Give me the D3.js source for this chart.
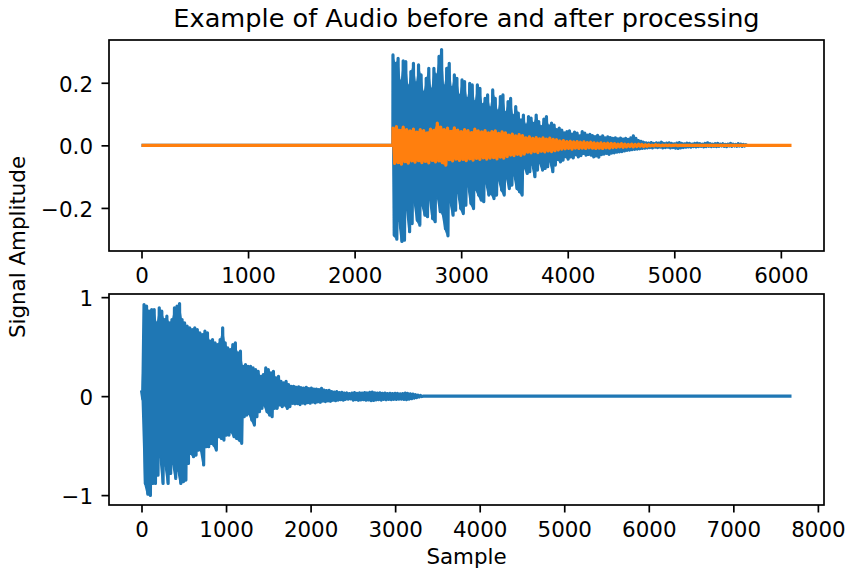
<!DOCTYPE html>
<head>
  <meta charset="utf-8">
  <style>
    body { margin: 0; background: #fff; }
    svg text { font-family: "DejaVu Sans", sans-serif; fill: #000; }
  </style>
</head>
<body>
  <svg width="846" height="571" id="chart"></svg>
  <script src="https://d3js.org/d3.v7.min.js"></script>
  <script>
    const title = "Example of Audio before and after processing";

    // top panel, original audio (blue): peak pairs every 24 samples from sample 2360
    const beforeStart = 2360, beforeStep = 24;
    const beforeHi = [
      0.289, 0.262, 0.278, 0.205, 0.270, 0.268, 0.190, 0.236, 0.262, 0.200,
      0.257, 0.225, 0.170, 0.214, 0.246, 0.180, 0.246, 0.225, 0.284, 0.306,
      0.190, 0.246, 0.262, 0.185, 0.225, 0.214, 0.160, 0.209, 0.204, 0.150,
      0.198, 0.193, 0.140, 0.193, 0.182, 0.130, 0.150, 0.161, 0.120, 0.177,
      0.150, 0.110, 0.156, 0.161, 0.105, 0.140, 0.150, 0.095, 0.124, 0.103,
      0.081, 0.097, 0.065, 0.092, 0.087, 0.070, 0.097, 0.076, 0.060, 0.084,
      0.092, 0.062, 0.071, 0.065, 0.050, 0.055, 0.049, 0.040, 0.044, 0.046,
      0.036, 0.042, 0.039, 0.030, 0.044, 0.039, 0.033, 0.035,
      0.031, 0.028, 0.032, 0.026, 0.030, 0.024, 0.027, 0.025, 0.022, 0.024,
      0.021, 0.023, 0.020, 0.022, 0.019, 0.024, 0.030, 0.022, 0.015, 0.013,
      0.010, 0.008, 0.007, 0.009, 0.006, 0.008, 0.007, 0.010, 0.006, 0.007,
      0.008, 0.006, 0.005, 0.007, 0.009, 0.006, 0.005, 0.007, 0.006, 0.004,
      0.006, 0.007, 0.005, 0.004, 0.006, 0.008, 0.005, 0.004, 0.005, 0.006,
      0.004, 0.005, 0.003, 0.004, 0.006, 0.004, 0.003, 0.005, 0.004, 0.003, 0.002
    ];
    const beforeLo = [
      -0.287, -0.300, -0.240, -0.307, -0.303, -0.200, -0.276, -0.250, -0.180, -0.239,
      -0.255, -0.190, -0.223, -0.228, -0.170, -0.234, -0.244, -0.160, -0.212, -0.218,
      -0.266, -0.289, -0.180, -0.223, -0.207, -0.150, -0.202, -0.218, -0.191, -0.130,
      -0.186, -0.202, -0.140, -0.159, -0.175, -0.180, -0.120, -0.159, -0.154, -0.170,
      -0.159, -0.110, -0.143, -0.159, -0.100, -0.138, -0.127, -0.095, -0.138, -0.148,
      -0.159, -0.070, -0.090, -0.084, -0.060, -0.100, -0.079, -0.055, -0.079, -0.074,
      -0.068, -0.050, -0.084, -0.063, -0.045, -0.053, -0.047, -0.036, -0.044, -0.037,
      -0.040, -0.030, -0.037, -0.033, -0.026, -0.031, -0.029, -0.031,
      -0.037, -0.034, -0.038, -0.030, -0.028, -0.026, -0.029, -0.025, -0.024, -0.022,
      -0.021, -0.020, -0.018, -0.016, -0.015, -0.014, -0.013, -0.012, -0.011, -0.010,
      -0.009, -0.008, -0.007, -0.008, -0.006, -0.007, -0.006, -0.008, -0.007, -0.006,
      -0.008, -0.007, -0.009, -0.010, -0.008, -0.007, -0.006, -0.005, -0.006, -0.004,
      -0.005, -0.004, -0.003, -0.005, -0.004, -0.003, -0.004, -0.003, -0.004, -0.003,
      -0.002, -0.003, -0.004, -0.002, -0.003, -0.002, -0.003, -0.002, -0.003, -0.002, -0.001
    ];

    // top panel, processed audio (orange): peak pairs every 32 samples from sample 2360
    const afterStart = 2360, afterStep = 32, afterLength = 6101;
    const afterHi = [
      0.055, 0.060, 0.048, 0.058, 0.050, 0.046, 0.052, 0.042, 0.050, 0.047,
      0.040, 0.052, 0.048, 0.071, 0.058, 0.050, 0.055, 0.045, 0.056, 0.049,
      0.044, 0.050, 0.047, 0.041, 0.052, 0.046, 0.043, 0.047, 0.040, 0.044,
      0.046, 0.038, 0.043, 0.040, 0.033, 0.036, 0.030, 0.034, 0.031, 0.024,
      0.027, 0.022, 0.025, 0.021, 0.024, 0.020, 0.023, 0.019, 0.018, 0.014,
      0.015, 0.012, 0.013, 0.011, 0.012, 0.010, 0.011, 0.009, 0.010, 0.008,
      0.007, 0.008, 0.006, 0.007, 0.006, 0.005, 0.004, 0.005, 0.004, 0.003,
      0.004, 0.003, 0.004, 0.003, 0.002, 0.002, 0.001, 0.002, 0.001, 0.001,
      0.001, 0.001, 0.000, 0.001, 0.000
    ];
    const afterLo = [
      -0.058, -0.055, -0.060, -0.052, -0.057, -0.050, -0.054, -0.049, -0.055, -0.051,
      -0.056, -0.048, -0.053, -0.050, -0.055, -0.063, -0.046, -0.050, -0.044, -0.048,
      -0.045, -0.049, -0.043, -0.047, -0.042, -0.045, -0.040, -0.044, -0.041, -0.039,
      -0.043, -0.038, -0.041, -0.036, -0.031, -0.033, -0.029, -0.032, -0.028, -0.022,
      -0.024, -0.020, -0.023, -0.019, -0.021, -0.018, -0.020, -0.017, -0.015, -0.012,
      -0.011, -0.010, -0.012, -0.009, -0.010, -0.009, -0.010, -0.008, -0.009, -0.010,
      -0.009, -0.010, -0.008, -0.009, -0.007, -0.006, -0.005, -0.006, -0.005, -0.004,
      -0.005, -0.004, -0.003, -0.004, -0.003, -0.002, -0.002, -0.001, -0.002, -0.001,
      -0.001, -0.001, 0.000, -0.001, 0.000
    ];

    // bottom panel (blue): peak pairs every 30 samples from sample 0
    const clipStart = 0, clipStep = 30, clipLength = 7689;
    const clipHi = [
      0.060, 0.926, 0.909, 0.858, 0.875, 0.875, 0.740, 0.892, 0.858, 0.774,
      0.808, 0.740, 0.774, 0.892, 0.909, 0.935, 0.774, 0.740, 0.707, 0.690,
      0.673, 0.690, 0.673, 0.639, 0.622, 0.656, 0.639, 0.555, 0.572, 0.538,
      0.521, 0.572, 0.690, 0.538, 0.487, 0.470, 0.521, 0.538, 0.437, 0.454,
      0.302, 0.319, 0.302, 0.302, 0.285, 0.268, 0.251, 0.201, 0.218, 0.285,
      0.268, 0.234, 0.251, 0.184, 0.201, 0.150, 0.133, 0.150, 0.116, 0.099,
      0.099, 0.090, 0.095, 0.085, 0.080, 0.088, 0.075, 0.080, 0.070, 0.072,
      0.065, 0.078, 0.060, 0.055, 0.058, 0.045, 0.040, 0.045, 0.035, 0.038,
      0.030, 0.032, 0.025, 0.030, 0.035, 0.028, 0.033, 0.030, 0.036, 0.032,
      0.038, 0.040, 0.034, 0.030, 0.033, 0.028, 0.030, 0.026, 0.029, 0.025,
      0.028, 0.027, 0.024, 0.026, 0.030, 0.027, 0.023, 0.020, 0.015, 0.010, 0.006
    ];
    const clipLo = [
      -0.030, -0.882, -0.990, -1.003, -0.882, -0.882, -0.798, -0.612, -0.882, -0.696,
      -0.882, -0.781, -0.680, -0.831, -0.747, -0.882, -0.865, -0.848, -0.680, -0.578,
      -0.612, -0.595, -0.545, -0.545, -0.696, -0.511, -0.511, -0.477, -0.494, -0.545,
      -0.410, -0.427, -0.444, -0.393, -0.393, -0.359, -0.410, -0.427, -0.444, -0.477,
      -0.207, -0.191, -0.174, -0.241, -0.292, -0.207, -0.157, -0.123, -0.089, -0.157,
      -0.191, -0.207, -0.123, -0.123, -0.089, -0.106, -0.089, -0.123, -0.106, -0.073,
      -0.079, -0.075, -0.085, -0.070, -0.078, -0.065, -0.072, -0.060, -0.068, -0.058,
      -0.062, -0.050, -0.055, -0.048, -0.052, -0.042, -0.046, -0.040, -0.036, -0.040,
      -0.032, -0.030, -0.028, -0.040, -0.035, -0.042, -0.038, -0.036, -0.041, -0.039,
      -0.045, -0.043, -0.038, -0.036, -0.040, -0.034, -0.037, -0.033, -0.036, -0.032,
      -0.034, -0.031, -0.030, -0.033, -0.035, -0.030, -0.026, -0.020, -0.014, -0.009, -0.005
    ];

    const topTicksX = [0, 1000, 2000, 3000, 4000, 5000, 6000];
    const topTicksY = [-0.2, 0, 0.2];
    const botTicksX = [0, 1000, 2000, 3000, 4000, 5000, 6000, 7000, 8000];
    const botTicksY = [-1, 0, 1];

    const blue = "#1f77b4", orange = "#ff7f0e";
    const svg = d3.select("#chart");
    const left = 109, right = 824;
    const fs = "21.4px";

    // peak pairs -> zig-zag trace
    function wave(start, step, hi, lo) {
      let pts = [];
      hi.forEach((h, i) => {
        pts.push([start + i * step, h]);
        pts.push([start + i * step + step / 2, lo[i]]);
      });
      return pts;
    }
    // peak pairs -> envelope (so the dense part reads as solid, like the many-sample original)
    function env(start, step, hi, lo) {
      return hi.map((h, i) => ({ s: start + i * step, hi: h, lo: lo[i] }));
    }

    let beforePts = [[0, 0], [beforeStart - 1, 0]].concat(wave(beforeStart, beforeStep, beforeHi, beforeLo));
    let afterPts = [[0, 0], [afterStart - 1, 0]].concat(wave(afterStart, afterStep, afterHi, afterLo));
    afterPts.push([afterStart + afterHi.length * afterStep, 0], [afterLength - 1, 0]);
    let clipPts = wave(clipStart, clipStep, clipHi, clipLo);
    clipPts.push([clipStart + clipHi.length * clipStep, 0], [clipLength - 1, 0]);

    // matplotlib-like autoscale, 5% margins
    function padded(vals) {
      let [a, b] = d3.extent(vals);
      let m = (b - a) * 0.05;
      return [a - m, b + m];
    }

    function panel(top, bottom, series, ticksX, ticksY, fmtY) {
      let allX = [].concat(...series.map(s => s.pts.map(p => p[0])));
      let allY = [].concat(...series.map(s => s.pts.map(p => p[1])));
      let x = d3.scaleLinear().domain(padded(allX)).range([left, right]);
      let y = d3.scaleLinear().domain(padded(allY)).range([bottom, top]);

      let line = d3.line().x(d => x(d[0])).y(d => y(d[1]));
      let area = d3.area().x(d => x(d.s)).y0(d => y(d.lo)).y1(d => y(d.hi));
      series.forEach(s => {
        svg.append("path")
          .attr("d", area(s.env))
          .attr("fill", s.color);
        svg.append("path")
          .attr("d", line(s.pts))
          .attr("fill", "none")
          .attr("stroke", s.color)
          .attr("stroke-width", 3.2)
          .attr("stroke-linejoin", "round");
      });

      let gx = svg.append("g")
        .attr("transform", `translate(0,${bottom})`)
        .call(d3.axisBottom(x).tickValues(ticksX).tickFormat(d3.format("d")).tickSize(7.5).tickSizeOuter(0));
      gx.select(".domain").remove();
      gx.selectAll("line").attr("stroke", "#000").attr("stroke-width", 1.7);
      gx.selectAll("text").attr("y", 32).attr("dy", null)
        .style("font-size", fs).attr("fill", "#000");

      let gy = svg.append("g")
        .attr("transform", `translate(${left},0)`)
        .call(d3.axisLeft(y).tickValues(ticksY).tickFormat(fmtY).tickSize(7.5).tickSizeOuter(0).tickPadding(8.5));
      gy.select(".domain").remove();
      gy.selectAll("line").attr("stroke", "#000").attr("stroke-width", 1.7);
      gy.selectAll("text").attr("dy", "0.4em")
        .style("font-size", fs).attr("fill", "#000");

      svg.append("rect")
        .attr("x", left).attr("y", top)
        .attr("width", right - left).attr("height", bottom - top)
        .attr("fill", "none").attr("stroke", "#000").attr("stroke-width", 1.7);
    }

    panel(40, 251, [
        { pts: beforePts, env: env(beforeStart, beforeStep, beforeHi, beforeLo), color: blue },
        { pts: afterPts, env: env(afterStart, afterStep, afterHi, afterLo), color: orange }
      ], topTicksX, topTicksY, d3.format(".1f"));
    panel(294, 505, [
        { pts: clipPts, env: env(clipStart, clipStep, clipHi, clipLo), color: blue }
      ], botTicksX, botTicksY, d3.format("d"));

    svg.append("text")
      .attr("x", (left + right) / 2).attr("y", 27)
      .attr("text-anchor", "middle")
      .style("font-size", "25.6px")
      .text(title);

    svg.append("text")
      .attr("x", (left + right) / 2).attr("y", 564)
      .attr("text-anchor", "middle")
      .style("font-size", fs)
      .text("Sample");

    svg.append("text")
      .attr("transform", "translate(25,247) rotate(-90)")
      .attr("text-anchor", "middle")
      .style("font-size", fs)
      .text("Signal Amplitude");
  </script>
</body>
